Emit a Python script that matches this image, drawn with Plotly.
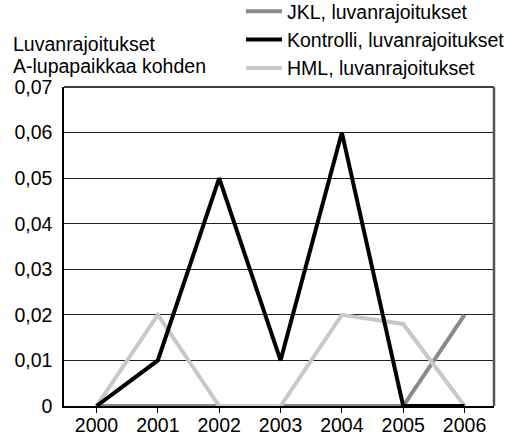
import plotly.graph_objects as go

years = [2000, 2001, 2002, 2003, 2004, 2005, 2006]
jkl = [0, 0, 0, 0, 0, 0, 0.02]
kontrolli = [0, 0.01, 0.05, 0.01, 0.06, 0, 0]
hml = [0, 0.02, 0, 0, 0.02, 0.018, 0]
ytick_vals = [0, 0.01, 0.02, 0.03, 0.04, 0.05, 0.06, 0.07]
ytick_text = ["0", "0,01", "0,02", "0,03", "0,04", "0,05", "0,06", "0,07"]

FONT = "Liberation Sans, Arial, sans-serif"
FS = 19.5
ML, MT = 64, 87
PH = 319.0  # plot height px
PW = 430.0  # plot width px

fig = go.Figure()
fig.add_trace(go.Scatter(x=years, y=jkl, mode="lines", name="JKL, luvanrajoitukset",
                         line=dict(color="#8a8a8a", width=4), legendrank=1))
fig.add_trace(go.Scatter(x=years, y=hml, mode="lines", name="HML, luvanrajoitukset",
                         line=dict(color="#c8c8c8", width=4), legendrank=3))
fig.add_trace(go.Scatter(x=years, y=kontrolli, mode="lines", name="Kontrolli, luvanrajoitukset",
                         line=dict(color="#000000", width=4), legendrank=2))

fig.update_layout(
    width=519, height=436,
    margin=dict(l=ML, r=25, t=MT, b=30, autoexpand=False),
    paper_bgcolor="white", plot_bgcolor="white",
    font=dict(family=FONT, size=FS, color="black"),
    showlegend=True,
    legend=dict(x=(241 - ML) / PW, y=1 + (MT + 8) / PH, xanchor="left", yanchor="top",
                font=dict(size=FS), bgcolor="rgba(0,0,0,0)",
                tracegroupgap=0, itemwidth=36),
    xaxis=dict(range=[1999.47, 2006.48], tickvals=years, ticktext=[str(y) for y in years],
               showgrid=False, zeroline=False, showline=True, linecolor="black", linewidth=1.5,
               mirror=False, ticks="outside", ticklen=5, tickcolor="black",
               ticklabelstandoff=-4, tickfont=dict(size=FS)),
    yaxis=dict(range=[0, 0.07], tickvals=ytick_vals, ticktext=ytick_text,
               showgrid=True, gridcolor="#222222", gridwidth=1, zeroline=False,
               showline=True, linecolor="black", linewidth=1.5, ticks="", ticklabelstandoff=6,
               tickfont=dict(size=FS)),
    shapes=[
        dict(type="line", xref="paper", yref="paper", x0=0, x1=1, y0=1, y1=1,
             line=dict(color="black", width=1.5)),
        dict(type="line", xref="paper", yref="paper", x0=1, x1=1, y0=0, y1=1,
             line=dict(color="#555555", width=2.5)),
    ],
    annotations=[
        dict(text="Luvanrajoitukset", xref="paper", yref="paper", x=(11 - ML) / PW,
             y=(MT + PH - 44) / PH, xanchor="left", yanchor="middle", showarrow=False,
             font=dict(size=FS)),
        dict(text="A-lupapaikkaa kohden", xref="paper", yref="paper", x=(11 - ML) / PW,
             y=(MT + PH - 66) / PH, xanchor="left", yanchor="middle", showarrow=False,
             font=dict(size=FS)),
    ],
)

fig.write_html("out.html",
               config={"displayModeBar": False},
               post_script="document.body.style.margin='0';document.body.style.padding='0';")
